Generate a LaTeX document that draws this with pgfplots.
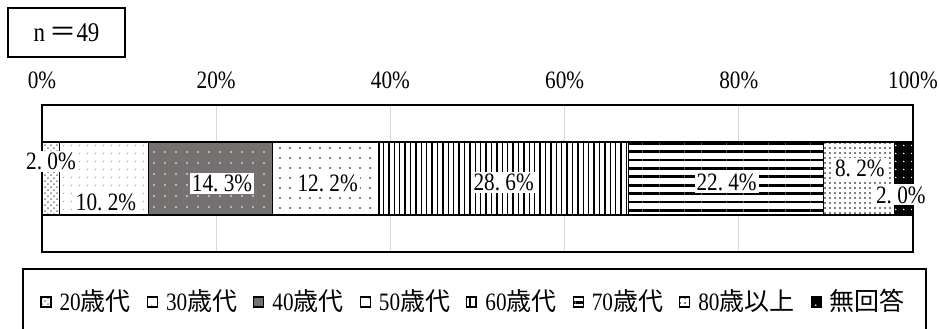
\documentclass[border=0pt]{standalone}
\usepackage{fontspec}
\setmainfont{Liberation Serif}[FakeStretch=0.85]
\newfontfamily\cjk{Noto Sans CJK JP}
\usepackage{pgfplots}
\pgfplotsset{compat=1.18}
\usetikzlibrary{patterns,patterns.meta}
\definecolor{darkgr}{RGB}{118,113,113}
\definecolor{gridgr}{RGB}{217,217,217}
\begin{document}
\fontsize{12.5pt}{15pt}\selectfont\frenchspacing
\begin{tikzpicture}
\useasboundingbox (0,0) rectangle (470pt,-164pt);
\node[draw, line width=0.6pt, minimum width=58.5pt, minimum height=24.5pt, inner sep=0pt] at (33.25pt,-16.25pt) {\fontsize{13.5pt}{15pt}\selectfont n\,{\cjk ＝}49};
\draw[line width=0.6pt] (11.5pt,-134.5pt) rectangle (463pt,-170pt);
\begin{axis}[
  at={(21pt,-126pt)}, anchor=south west,
  scale only axis, width=435.5pt, height=73.5pt,
  xbar stacked, bar width=36.5pt,
  xmin=0, xmax=100, ymin=0, ymax=1,
  ytick=\empty,
  xtick={0,20,40,60,80,100},
  xticklabels={0\%,20\%,40\%,60\%,80\%,100\%},
  xticklabel pos=upper,
  xticklabel style={anchor=base, yshift=8.25pt},
  major tick length=0pt,
  xmajorgrids, grid style={gridgr, line width=0.6pt},
  axis line style={line width=0.7pt},
  /pgf/number format/assume math mode=true,
  legend columns=-1,
  legend style={at={(-0.0023,-0.340)}, anchor=west, draw=none, fill=none, inner sep=0pt,
    nodes={inner sep=0pt},
    /tikz/every odd column/.append style={column sep=4pt},
    /tikz/every even column/.append style={column sep=8pt}},
  legend image code/.code={\draw[#1, line width=0.6pt] (0pt,-2.5pt) rectangle (5pt,2.5pt);},
]
\addplot[draw=black, line width=0.6pt, fill=white, postaction={pattern=crosshatch dots, pattern color=gray}] coordinates {(2.0,0.5)};
\addplot[draw=black, line width=0.6pt, fill=white, postaction={pattern={Dots[distance=4pt,radius=0.4pt]}, pattern color=gray!70}] coordinates {(10.2,0.5)};
\addplot[draw=black, line width=0.6pt, fill=darkgr, postaction={pattern={Dots[distance=5.5pt,radius=0.45pt]}, pattern color=white}] coordinates {(14.3,0.5)};
\addplot[draw=black, line width=0.6pt, fill=white, postaction={pattern={Dots[distance=5pt,radius=0.4pt]}, pattern color=black}] coordinates {(12.2,0.5)};
\addplot[draw=black, line width=0.6pt, fill=white, postaction={pattern={Lines[angle=90,distance=2.7pt,line width=0.7pt]}, pattern color=black}] coordinates {(28.6,0.5)};
\addplot[draw=black, line width=0.6pt, fill=white, postaction={pattern={Lines[angle=0,distance=4.2pt,line width=1.4pt]}, pattern color=black}] coordinates {(22.4,0.5)};
\addplot[draw=black, line width=0.6pt, fill=white, postaction={pattern={Dots[distance=2.5pt,radius=0.4pt]}, pattern color=black}] coordinates {(8.2,0.5)};
\addplot[draw=black, line width=0.6pt, fill=black, postaction={pattern={Dots[distance=4pt,radius=0.45pt]}, pattern color=white}] coordinates {(2.0,0.5)};
\legend{20{\cjk 歳代},30{\cjk 歳代},40{\cjk 歳代},50{\cjk 歳代},60{\cjk 歳代},70{\cjk 歳代}\hspace{6.5pt},80{\cjk 歳以上},{\cjk 無回答}}
\coordinate (L1) at (axis cs:1.03,0.619);
\coordinate (L2) at (axis cs:7.35,0.340);
\coordinate (L3) at (axis cs:20.67,0.469);
\coordinate (L4) at (axis cs:32.8,0.469);
\coordinate (L5) at (axis cs:53.0,0.476);
\coordinate (L6) at (axis cs:78.6,0.476);
\coordinate (L7) at (axis cs:93.9,0.571);
\coordinate (L8) at (axis cs:98.6,0.388);
\end{axis}
\begin{scope}[every node/.style={fill=white, inner sep=1pt}]
\node at (L1) {2. 0\%};
\node at (L2) {10. 2\%};
\node at (L3) {14. 3\%};
\node at (L4) {12. 2\%};
\node at (L5) {28. 6\%};
\node at (L6) {22. 4\%};
\node at (L7) {8. 2\%};
\node at (L8) {2. 0\%};
\end{scope}
\end{tikzpicture}
\end{document}
